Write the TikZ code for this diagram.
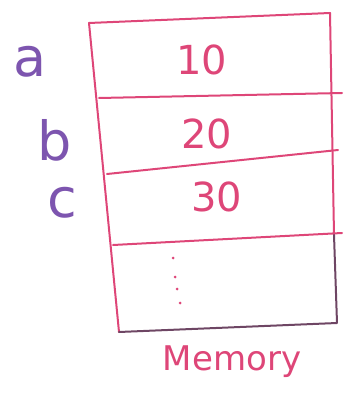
\documentclass[tikz,border=0pt]{standalone}
\usepackage{fontspec}
\setmainfont{DejaVu Sans}
\definecolor{pen}{RGB}{222,70,120}
\definecolor{ink}{RGB}{125,85,175}
\definecolor{dark}{RGB}{110,70,100}
\begin{document}
\begin{tikzpicture}[x=1pt,y=-1pt,
  edge/.style={pen,line width=2pt,line cap=round,line join=round},
  val/.style={text=pen,font=\fontsize{40}{40}\selectfont},
  lbl/.style={text=ink,font=\fontsize{54}{54}\selectfont},
  dotm/.style={fill=pen,draw=none,circle,inner sep=0pt,minimum size=3pt}]
\useasboundingbox (0,0) rectangle (345,414);
\coordinate (TL) at (89,23);
\coordinate (TR) at (330,13);
\coordinate (L2) at (99,98);
\coordinate (R2) at (342,93);
\coordinate (L3) at (107,174);
\coordinate (R3) at (338,150);
\coordinate (L4) at (113,245);
\coordinate (R4) at (342,233);
\coordinate (BL) at (119,332);
\coordinate (BR) at (337,323);
\coordinate (RM) at (334,235);
\draw[edge] (TL) -- (TR);
\draw[edge] (TL) -- (BL);
\draw[edge] (TR) -- (RM);
\draw[edge] (L2) -- (R2);
\draw[edge] (L3) -- (R3);
\draw[edge] (L4) -- (R4);
\draw[edge,dark] (RM) -- (BR) -- (BL);
\node[lbl] (a) at (30,62) {a};
\node[lbl] (b) at (55,140) {b};
\node[lbl] (c) at (62,203) {c};
\node[val] (v10) at (202,60) {10};
\node[val] (v20) at (207,134) {20};
\node[val] (v30) at (217,197) {30};
\node[dotm] (d1) at (173,258) {};
\node[dotm] (d2) at (175,277) {};
\node[dotm] (d3) at (177,289) {};
\node[dotm] (d4) at (180,303) {};
\node[text=pen,font=\fontsize{34}{34}\selectfont] (mem) at (232,362) {Memory};
\end{tikzpicture}
\end{document}
